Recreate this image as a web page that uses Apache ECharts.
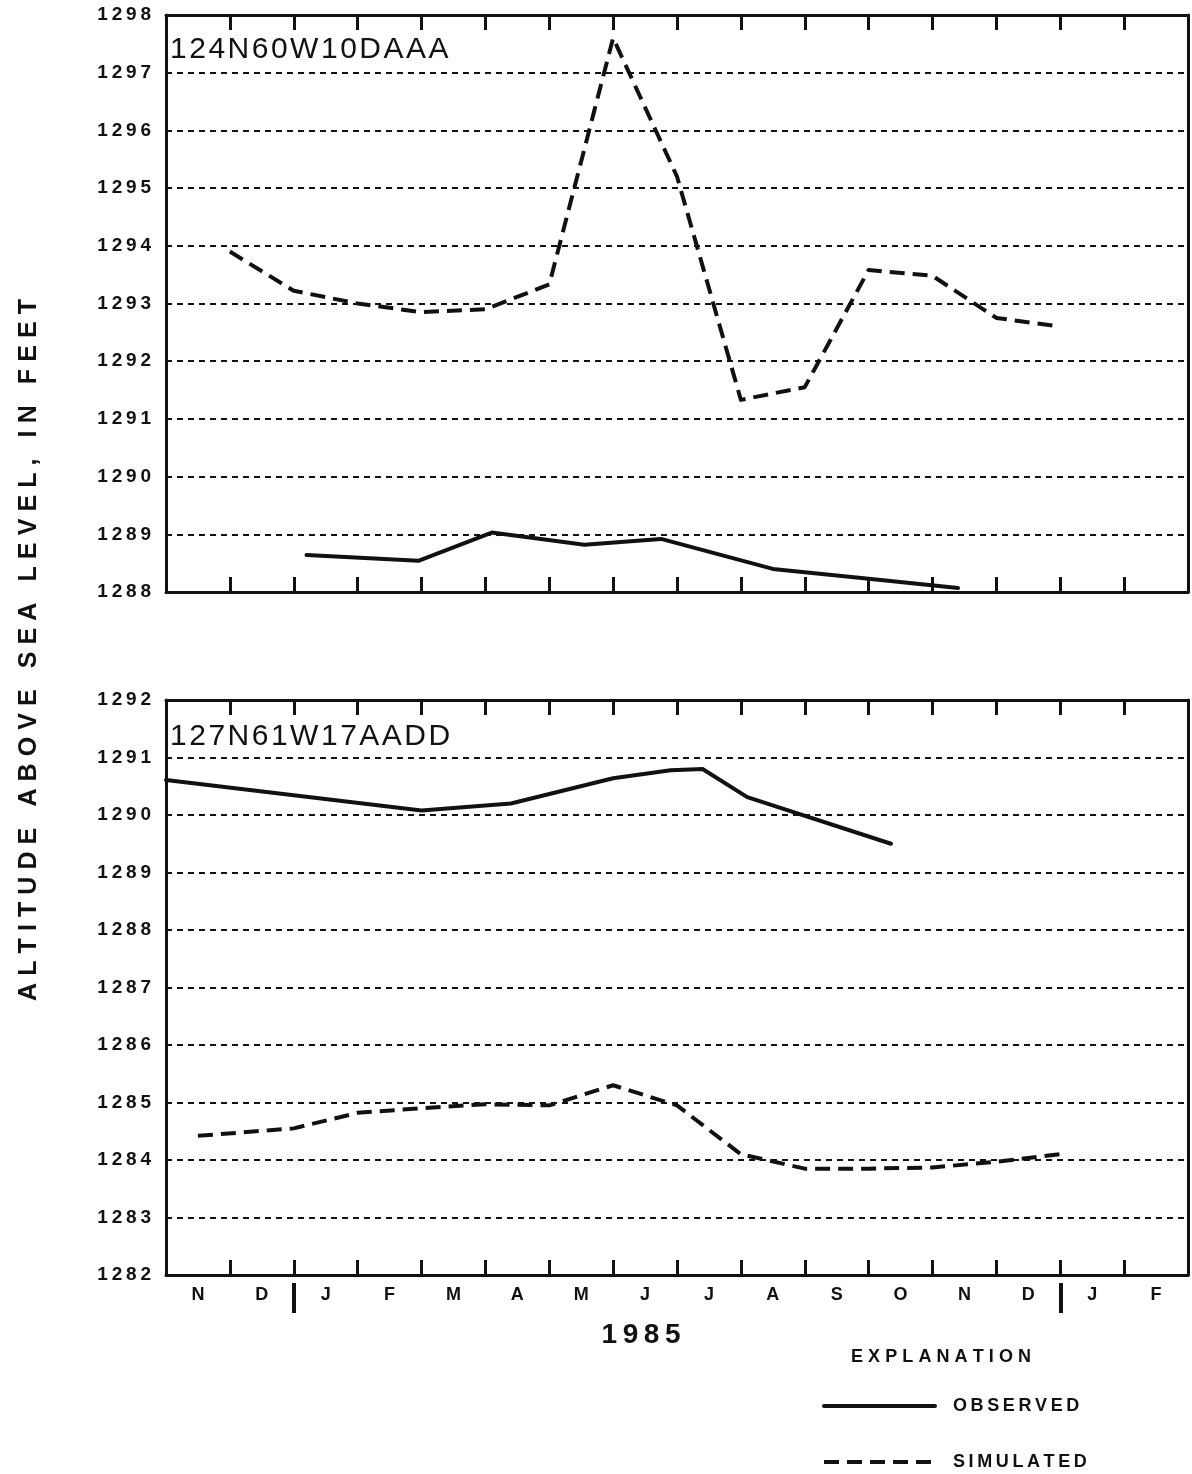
<!DOCTYPE html>
<html>
<head>
<meta charset="utf-8">
<script src="https://cdn.jsdelivr.net/npm/echarts@6/dist/echarts.min.js"></script>
<style>
  html, body { margin: 0; padding: 0; background: #fff; }
  #chart { width: 1192px; height: 1474px; }
</style>
</head>
<body>
<div id="chart"></div>
<script>
// Month bands along the time axis (Nov 1984 - Feb 1986), boundaries at integers
const monthLabels = ['N', 'D', 'J', 'F', 'M', 'A', 'M', 'J', 'J', 'A', 'S', 'O', 'N', 'D', 'J', 'F'];
const yearBreaks = [2, 14];

// Well 124N60W10DAAA
const simTopMonths = [1, 2, 3, 4, 5, 6, 7, 8, 9, 10, 11, 12, 13, 14];
const simTopLevels = [1293.9, 1293.22, 1293.0, 1292.85, 1292.9, 1293.33, 1297.6, 1295.2, 1291.33, 1291.55, 1293.58, 1293.48, 1292.75, 1292.6];
const obsTopMonths = [2.2, 3.95, 5.1, 6.55, 7.75, 9.5, 11.0, 12.4];
const obsTopLevels = [1288.64, 1288.54, 1289.03, 1288.82, 1288.92, 1288.4, 1288.23, 1288.07];

// Well 127N61W17AADD
const obsBotMonths = [0, 4.0, 5.4, 7.0, 7.9, 8.4, 9.1, 11.35];
const obsBotLevels = [1290.61, 1290.08, 1290.2, 1290.64, 1290.78, 1290.8, 1290.31, 1289.5];
const simBotMonths = [0.5, 2, 3, 4, 5, 6, 7, 8, 9, 10, 11, 12, 13, 14];
const simBotLevels = [1284.42, 1284.55, 1284.82, 1284.9, 1284.97, 1284.95, 1285.3, 1284.95, 1284.1, 1283.85, 1283.85, 1283.87, 1283.97, 1284.1];

const topRange = [1288, 1298];
const botRange = [1282, 1292];

const FONT = '"Liberation Sans", Arial, sans-serif';
const INK = '#111';

// widen lettering with thin spaces between characters
function spaced(s, sep) {
  return s.split('').join(sep || '\u2009');
}

function pairs(xs, ys) {
  return xs.map((x, i) => [x, ys[i]]);
}

function frameX(gridIndex, position) {
  return {
    type: 'value', gridIndex: gridIndex, position: position,
    min: 0, max: monthLabels.length, interval: 1,
    axisLine: { show: true, onZero: false, lineStyle: { color: INK, width: 3 } },
    axisTick: { show: true, inside: true, length: 15, lineStyle: { color: INK, width: 3 } },
    axisLabel: { show: false },
    splitLine: { show: false }
  };
}

function levelAxis(gridIndex, range, side) {
  const left = side === 'left';
  return {
    type: 'value', gridIndex: gridIndex, position: side,
    min: range[0], max: range[1], interval: 1,
    axisLine: { show: true, onZero: false, lineStyle: { color: INK, width: 3 } },
    axisTick: { show: false },
    axisLabel: left ? {
      show: true, margin: 15, color: INK, fontSize: 19, fontWeight: 'bold', fontFamily: FONT,
      formatter: v => spaced(String(v), '\u2009')
    } : { show: false },
    splitLine: left ? {
      show: true, lineStyle: { color: INK, width: 2, type: [6, 5] }
    } : { show: false }
  };
}

const solid = { color: INK, width: 4, type: 'solid', join: 'round', cap: 'round' };
const dashed = { color: INK, width: 4, type: [15, 8], join: 'round' };

function lineSeries(name, xi, yi, data, style) {
  return {
    name: name, type: 'line', xAxisIndex: xi, yAxisIndex: yi,
    data: data, symbol: 'none', smooth: false, clip: false,
    lineStyle: style, itemStyle: { color: INK }, z: 5
  };
}

const titleStyle = { fontFamily: FONT, fontSize: 30, fontWeight: 'normal', color: INK };

const chart = echarts.init(document.getElementById('chart'), null, { renderer: 'canvas' });

chart.setOption({
  animation: false,
  backgroundColor: '#fff',
  grid: [
    { left: 166, top: 15, width: 1022, height: 577, containLabel: false },
    { left: 166, top: 700, width: 1022, height: 575, containLabel: false }
  ],
  title: [
    { text: spaced('124N60W10DAAA', '\u200A'), left: 170, top: 35, padding: 0, textStyle: titleStyle },
    { text: spaced('127N61W17AADD', '\u200A'), left: 170, top: 722, padding: 0, textStyle: titleStyle }
  ],
  xAxis: [
    frameX(0, 'bottom'),
    frameX(0, 'top'),
    frameX(1, 'bottom'),
    frameX(1, 'top'),
    {
      // month letters and the year dividers below the lower panel
      type: 'value', gridIndex: 1, position: 'bottom', offset: 8,
      min: 0, max: monthLabels.length,
      axisLine: { show: false },
      axisTick: { show: true, inside: false, length: 30, customValues: yearBreaks,
        lineStyle: { color: INK, width: 4 } },
      axisLabel: {
        show: true, margin: 3, color: INK, fontSize: 18, fontWeight: 'bold', fontFamily: FONT,
        customValues: monthLabels.map((m, i) => i + 0.5),
        formatter: v => monthLabels[Math.floor(v)]
      },
      splitLine: { show: false }
    }
  ],
  yAxis: [
    levelAxis(0, topRange, 'left'),
    levelAxis(0, topRange, 'right'),
    levelAxis(1, botRange, 'left'),
    levelAxis(1, botRange, 'right')
  ],
  legend: {
    data: ['OBSERVED', 'SIMULATED'],
    orient: 'vertical', left: 822, top: 1397, padding: 0,
    itemWidth: 111, itemHeight: 14, itemGap: 38,
    lineStyle: { width: 4 },
    itemStyle: { opacity: 0 },
    formatter: name => spaced(name, '\u2009'),
    textStyle: { fontFamily: FONT, fontSize: 18, fontWeight: 'bold', color: INK, padding: [0, 0, 0, 13] },
    selectedMode: false
  },
  graphic: [
    { type: 'text', z: 10, x: 29, y: 650, rotation: Math.PI / 2,
      style: { text: spaced('ALTITUDE ABOVE SEA LEVEL, IN FEET', '\u2009\u200A'),
        fontFamily: FONT, fontSize: 25, fontWeight: 'bold', fill: INK,
        align: 'center', verticalAlign: 'middle' } },
    { type: 'text', z: 10, x: 641, y: 1335,
      style: { text: spaced('1985', '\u2009'), fontFamily: FONT, fontSize: 28, fontWeight: 'bold', fill: INK,
        align: 'center', verticalAlign: 'middle' } },
    { type: 'text', z: 10, x: 941, y: 1357,
      style: { text: spaced('EXPLANATION', '\u2009\u200A'), fontFamily: FONT, fontSize: 18, fontWeight: 'bold',
        fill: INK, align: 'center', verticalAlign: 'middle' } }
  ],
  series: [
    lineSeries('OBSERVED', 0, 0, pairs(obsTopMonths, obsTopLevels), solid),
    lineSeries('SIMULATED', 0, 0, pairs(simTopMonths, simTopLevels), dashed),
    lineSeries('OBSERVED', 2, 2, pairs(obsBotMonths, obsBotLevels), solid),
    lineSeries('SIMULATED', 2, 2, pairs(simBotMonths, simBotLevels), dashed)
  ]
});
</script>
</body>
</html>
